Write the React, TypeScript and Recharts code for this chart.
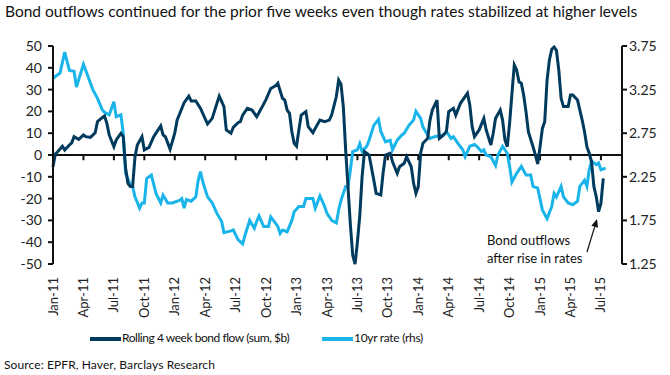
import React from 'react'
import { LineChart, Line, XAxis, YAxis, ReferenceLine } from 'recharts'

// weeks since first week of Jan 2011
const flowWeeks = [
  0, 1, 2, 4, 5, 7, 8, 9, 11, 13, 14, 16, 18, 19, 21, 22, 23, 24, 26, 27, 29, 30, 31, 32, 33, 34, 35, 36, 38, 39,
  41, 43, 44, 46, 47, 48, 50, 52, 53, 56, 58, 59, 61, 63, 66, 68, 70, 71, 73, 74, 76, 77, 79, 80, 81, 83, 85, 87, 89, 91,
  93, 95, 96, 98, 99, 100, 101, 102, 103, 104, 105, 106, 108, 109, 111, 112, 114, 116, 118, 119, 121, 122, 123, 124, 125, 126, 127, 128, 129, 130,
  131, 132, 133, 134, 135, 137, 138, 140, 141, 142, 144, 145, 147, 148, 150, 151, 153, 154, 155, 156, 157, 158, 160, 161, 162, 164, 165, 166, 168, 169,
  171, 172, 174, 177, 178, 179, 180, 182, 184, 185, 187, 188, 189, 191, 192, 193, 194, 195, 196, 197, 198, 199, 200, 201, 202, 203, 205, 206, 207, 208,
  209, 210, 211, 212, 213, 214, 215, 216, 217, 218, 220, 221, 222, 224, 226, 227, 228, 229, 230, 231, 232, 233, 234, 235,
]
const flowValues = [
  -5.4, 0.5, 1.5, 4, 2.3, 4.6, 5.6, 8.4, 7.2, 9.2, 8.4, 8.1, 10.2, 15.3, 17.1, 17.9, 14.5, 9.2, 3.8, 6.9, 9.9, 8.4, -6, -13, -14.5, -14.5, -1, 4.6, 8.4, 2.3,
  3.5, 8.4, 10, 13.3, 9.2, 8.4, 2.6, 10, 16, 24, 27, 24.8, 24.8, 21.4, 14.2, 16.8, 23.7, 27, 22.2, 11.5, 10, 12.7, 14.8, 15.3, 18.3, 21.4, 20.6, 17.6, 21.4, 25.5,
  30.5, 31.7, 32.9, 26, 25.2, 20.6, 19.1, 10.7, 5.4, 4.1, 11.5, 18.3, 19.9, 13, 10.2, 12.2, 16, 15.3, 16, 18.3, 26.8, 34.4, 32.5, 22, 2, -15, -32, -46, -50, -40,
  -28, -10, 1.5, 0.8, 0, -11.5, -17.6, -18.3, -8, 0, 0.8, -3.1, -8.4, -5.4, -3.8, -0.8, -5.4, -13, -17.6, -14.5, 0.8, 5.4, 7.6, 16, 20.6, 25.2, 7.6, 8.4, 10.7, 19.9,
  21.4, 18.3, 23.7, 28.3, 22.9, 13, 8.4, 11.5, 16.8, 11.5, 4.6, 10, 16.8, 20.6, 16, 6.9, 3.8, 14.5, 28.3, 41.3, 39, 33.6, 32.9, 27.5, 19.9, 10.7, 3.8, 0, -4.1, 3.8,
  12.2, 15.3, 34.4, 43.6, 48.5, 49.5, 48, 39, 26, 22.2, 22.2, 27.5, 27.5, 25.2, 16, 10.7, 3.8, 0.8, -3.1, -14.5, -19.1, -26, -22.2, -10.7,
]

const rateWeeks = [
  0, 2, 3, 5, 7, 9, 10, 13, 14, 17, 19, 21, 22, 24, 26, 27, 29, 30, 31, 33, 34, 35, 37, 38, 39, 40, 42, 44, 46, 47,
  49, 51, 54, 55, 56, 57, 59, 61, 62, 63, 64, 66, 68, 70, 72, 73, 76, 77, 79, 81, 82, 84, 86, 87, 88, 90, 92, 93, 95, 96,
  97, 98, 100, 102, 103, 105, 107, 108, 110, 111, 112, 114, 116, 117, 119, 121, 122, 123, 125, 126, 127, 128, 130, 131, 132, 134, 135, 137, 139, 140,
  142, 144, 145, 147, 149, 150, 152, 154, 155, 157, 158, 160, 161, 163, 165, 167, 168, 170, 171, 173, 175, 176, 178, 180, 181, 183, 184, 185, 187, 189,
  190, 192, 194, 195, 196, 198, 200, 202, 204, 205, 207, 209, 211, 213, 214, 215, 217, 218, 220, 222, 224, 225, 227, 228, 229, 230, 232, 233, 234, 236,
]
const rateValues = [
  3.38, 3.42, 3.44, 3.68, 3.47, 3.46, 3.28, 3.54, 3.47, 3.25, 3.15, 3.02, 2.99, 2.96, 3.11, 2.94, 2.96, 2.75, 2.29, 2.16, 2.14, 2.02, 1.89, 1.95, 1.95, 2.23, 2.27, 2.06, 1.95, 2.04,
  1.95, 1.95, 1.98, 2.0, 1.89, 1.99, 1.97, 2.02, 2.21, 2.31, 2.19, 2.02, 1.95, 1.83, 1.74, 1.61, 1.63, 1.64, 1.53, 1.48, 1.58, 1.75, 1.66, 1.74, 1.8, 1.68, 1.68, 1.79, 1.72, 1.68,
  1.6, 1.64, 1.62, 1.75, 1.85, 1.91, 1.91, 2.0, 2.0, 2.0, 1.89, 2.03, 1.91, 1.83, 1.75, 1.72, 1.87, 1.98, 2.14, 2.14, 2.33, 2.54, 2.56, 2.63, 2.54, 2.6, 2.67, 2.84, 2.91, 2.77,
  2.65, 2.67, 2.56, 2.67, 2.73, 2.75, 2.84, 2.9, 3.0, 2.92, 2.82, 2.73, 2.69, 2.71, 2.72, 2.73, 2.77, 2.69, 2.71, 2.63, 2.56, 2.48, 2.6, 2.62, 2.6, 2.54, 2.56, 2.5, 2.48, 2.38,
  2.5, 2.6, 2.52, 2.37, 2.19, 2.29, 2.37, 2.27, 2.27, 2.14, 2.12, 1.87, 1.77, 1.91, 2.06, 2.02, 2.14, 2.02, 1.95, 1.93, 1.97, 2.14, 2.21, 2.14, 2.33, 2.43, 2.39, 2.41, 2.33, 2.35,
]

const quarterLabels = [
  'Jan-11', 'Apr-11', 'Jul-11', 'Oct-11', 'Jan-12', 'Apr-12', 'Jul-12', 'Oct-12', 'Jan-13', 'Apr-13',
  'Jul-13', 'Oct-13', 'Jan-14', 'Apr-14', 'Jul-14', 'Oct-14', 'Jan-15', 'Apr-15', 'Jul-15',
]
const quarterTicks = quarterLabels.map((_, i) => i * 13)
const leftTicks = [-50, -40, -30, -20, -10, 0, 10, 20, 30, 40, 50]
const rightTicks = [1.25, 1.75, 2.25, 2.75, 3.25, 3.75]

const NAVY = '#003a5d'
const CYAN = '#19b5ea'
const FONT = 'Lato, "Open Sans", sans-serif'

const flowMap = new Map(flowWeeks.map((w, i) => [w, flowValues[i]]))
const rateMap = new Map(rateWeeks.map((w, i) => [w, rateValues[i]]))
const data = Array.from(new Set([...flowWeeks, ...rateWeeks]))
  .sort((a, b) => a - b)
  .map(w => ({ week: w, flow: flowMap.get(w), rate: rateMap.get(w) }))

function XTick({ x, y, payload }: any) {
  const label = quarterLabels[quarterTicks.indexOf(payload.value)]
  return (
    <text x={x} y={y} transform={`rotate(-90, ${x}, ${y})`} textAnchor="end" dy="0.35em" fontSize={13} fill="#222" fontFamily={FONT}>
      {label}
    </text>
  )
}

export default function App() {
  return (
    <div style={{ position: 'absolute', left: 0, top: 0, width: 670, height: 375, background: '#fff', fontFamily: FONT, color: '#111' }}>
      <div style={{ position: 'absolute', left: 5, top: 2, fontSize: 15.5, whiteSpace: 'nowrap' }}>
        Bond outflows continued for the prior five weeks even though rates stabilized at higher levels
      </div>
      <LineChart width={670} height={375} data={data} margin={{ top: 46, right: 0, bottom: 0, left: 0 }}>
        <XAxis
          dataKey="week"
          type="number"
          domain={[0, 243]}
          ticks={quarterTicks}
          tick={<XTick />}
          tickLine={false}
          axisLine={false}
          tickSize={6}
          tickMargin={7}
          height={111}
          interval={0}
        />
        <YAxis
          yAxisId="left"
          domain={[-50, 50]}
          ticks={leftTicks}
          width={53}
          tick={{ fontSize: 14, fill: '#222', fontFamily: FONT }}
          axisLine={{ stroke: '#111', strokeWidth: 2 }}
          tickLine={{ stroke: '#111', strokeWidth: 2 }}
          tickSize={5}
          tickMargin={6}
          interval={0}
        />
        <YAxis
          yAxisId="right"
          orientation="right"
          domain={[1.25, 3.75]}
          ticks={rightTicks}
          width={48}
          tickFormatter={v => v.toFixed(2)}
          tick={{ fontSize: 14, fill: '#222', fontFamily: FONT }}
          axisLine={{ stroke: '#111', strokeWidth: 2 }}
          tickLine={{ stroke: '#111', strokeWidth: 2 }}
          tickSize={5}
          tickMargin={2}
          interval={0}
        />
        <ReferenceLine yAxisId="left" y={0} stroke="#111" strokeWidth={2} />
        {quarterTicks.slice(1).map(q => (
          <ReferenceLine
            key={q}
            yAxisId="left"
            segment={[{ x: q, y: 0 }, { x: q, y: -2.4 }]}
            stroke="#111"
            strokeWidth={2}
          />
        ))}
        <Line yAxisId="right" dataKey="rate" stroke={CYAN} strokeWidth={3} dot={false} connectNulls isAnimationActive={false} />
        <Line yAxisId="left" dataKey="flow" stroke={NAVY} strokeWidth={3} dot={false} connectNulls isAnimationActive={false} />
      </LineChart>
      <svg width={670} height={375} style={{ position: 'absolute', left: 0, top: 0, pointerEvents: 'none' }}>
        <text x={487} y={245} fontSize={13} fill="#111" fontFamily={FONT}>Bond outflows</text>
        <text x={487} y={263} fontSize={13} fill="#111" fontFamily={FONT}>after rise in rates</text>
        <line x1={587} y1={252} x2={594.7} y2={226.7} stroke="#111" strokeWidth={1.2} />
        <polygon points="597,219 598.05,227.7 591.35,225.7" fill="#111" />
      </svg>
      <div style={{ position: 'absolute', left: 90, top: 337, width: 31, height: 4, background: NAVY }} />
      <div style={{ position: 'absolute', left: 122, top: 330, fontSize: 12, letterSpacing: -0.45, whiteSpace: 'nowrap' }}>
        Rolling 4 week bond flow (sum, $b)
      </div>
      <div style={{ position: 'absolute', left: 322, top: 337, width: 31, height: 4, background: CYAN }} />
      <div style={{ position: 'absolute', left: 354, top: 330, fontSize: 12, letterSpacing: -0.3, whiteSpace: 'nowrap' }}>
        10yr rate (rhs)
      </div>
      <div style={{ position: 'absolute', left: 4, top: 357, fontSize: 12, letterSpacing: 0.1, whiteSpace: 'nowrap' }}>
        Source: EPFR, Haver, Barclays Research
      </div>
    </div>
  )
}
